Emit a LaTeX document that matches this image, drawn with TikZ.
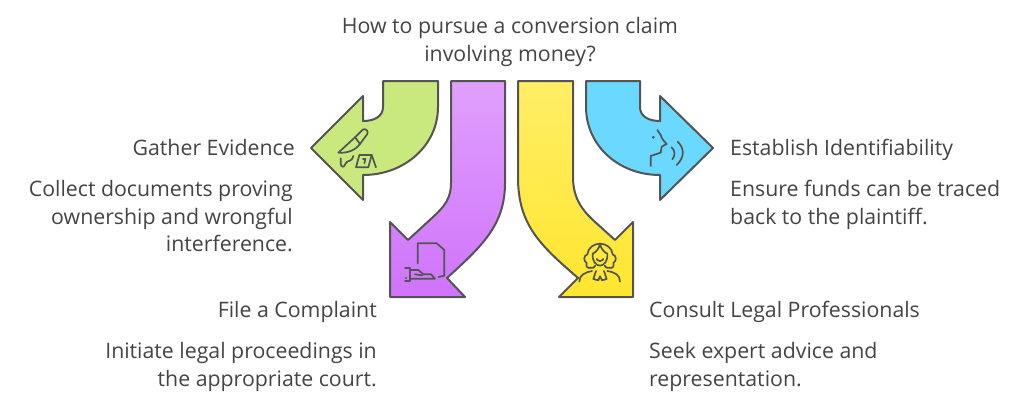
\documentclass[tikz,border=0pt]{standalone}
\usepackage{fontspec}
\setmainfont{Open Sans}
\usepackage{xcolor}
\usetikzlibrary{positioning,calc}
\definecolor{inkgray}{HTML}{545454}
\definecolor{textgray}{HTML}{444444}
\definecolor{leafgreen}{HTML}{C9E87E}
\definecolor{skyblue}{HTML}{6BD8FF}
\definecolor{purpletop}{HTML}{E0A0FC}
\definecolor{purplebottom}{HTML}{CF73FB}
\definecolor{yellowtop}{HTML}{FFEE66}
\definecolor{yellowbottom}{HTML}{FFE62E}

\begin{document}
\begin{tikzpicture}[
    x=1pt, y=-1pt,
    arrowshape/.style={draw=inkgray, line width=2pt, line join=round},
    iconline/.style={draw=inkgray, line width=1.7pt, line cap=round, line join=round},
    textlabel/.style={font=\fontsize{21.3}{27.8}\selectfont, text=textgray, inner sep=0pt},
    leftlabel/.style={textlabel, anchor=north west, align=left},
    rightlabel/.style={textlabel, anchor=north east, align=right}
]
\useasboundingbox (0,0) rectangle (1024,404);

% green arrow
\draw[arrowshape, fill=leafgreen] (383,81) -- (438,81) -- (438,107)
    .. controls (438,145) and (405,175) .. (363,175)
    -- (363,200) -- (311,148) -- (363,96) -- (363,121)
    .. controls (375,121) and (383,116) .. (383,107) -- cycle;
% purple arrow
\draw[arrowshape, top color=purpletop, bottom color=purplebottom] (451,81) -- (505,81) -- (505,183)
    .. controls (505,225) and (482,246) .. (447,278)
    -- (465,297) -- (390,297) -- (390,222) -- (408,240)
    -- (433,217) .. controls (445,206) and (451,198) .. (451,183) -- cycle;
% yellow arrow
\draw[arrowshape, top color=yellowtop, bottom color=yellowbottom] (518,81) -- (573,81) -- (573,177)
    .. controls (573,198) and (582,210) .. (594,221)
    -- (615,240) -- (633,222) -- (633,297) -- (559,297) -- (578,278)
    .. controls (540,245) and (518,225) .. (518,177) -- cycle;
% blue arrow
\draw[arrowshape, fill=skyblue] (586,81) -- (640,81) -- (640,107)
    .. controls (640,116) and (648,121) .. (660,121)
    -- (660,96) -- (713,148) -- (660,200) -- (660,175)
    .. controls (618,175) and (586,145) .. (586,107) -- cycle;

% knife and marker
\begin{scope}[shift={(330,120)}, scale=1/3]
    \draw[iconline] (25,98) -- (75,52) -- (98,29) .. controls (106,24) and (116,32) .. (112,42)
        -- (90,72) .. controls (75,92) and (50,100) .. (25,98);
    \draw[iconline] (75,52) -- (90,72);
    \draw[iconline] (32,115) -- (32,132) .. controls (34,142) and (42,144) .. (46,132)
        .. controls (48,124) and (54,124) .. (60,122) .. controls (66,120) and (68,114) .. (70,108);
    \draw[iconline] (78,142) -- (88,105) -- (125,105) -- (115,142) -- cycle;
    \draw[iconline] (125,105) -- (138,142);
    \draw[iconline] (99,117) -- (106,117) -- (103,130);
\end{scope}

% document and hand
\begin{scope}[shift={(395,235)}, scale=1/3]
    \draw[iconline] (68,85) -- (68,25) -- (125,25) -- (148,45) -- (148,122) -- (131,126);
    \draw[iconline] (30,100) -- (45,100) -- (45,137) -- (30,137);
    \draw[iconline] (45,105) -- (70,105) -- (85,118) -- (108,118) -- (120,131) -- (45,131);
    \draw[iconline] (60,118) -- (82,121);
    \fill[inkgray] (33,129) circle (3.5);
\end{scope}

% lawyer
\begin{scope}[shift={(570,235)}, scale=1/3]
    \draw[iconline] (62,98) .. controls (54,102) and (46,94) .. (50,84)
        .. controls (40,78) and (40,62) .. (52,58)
        .. controls (54,38) and (72,26) .. (90,26)
        .. controls (108,26) and (126,38) .. (128,58)
        .. controls (140,62) and (140,78) .. (130,84)
        .. controls (134,94) and (126,102) .. (118,98);
    \draw[iconline] (62,98) .. controls (68,100) and (74,98) .. (76,92);
    \draw[iconline] (118,98) .. controls (112,100) and (106,98) .. (104,92);
    \draw[iconline] (90,26) .. controls (88,40) and (78,52) .. (68,56)
        .. controls (66,78) and (78,92) .. (90,92)
        .. controls (102,92) and (114,78) .. (112,56)
        .. controls (102,52) and (92,40) .. (90,26);
    \draw[iconline] (80,72) .. controls (85,80) and (95,80) .. (100,72);
    \draw[iconline] (28,140) .. controls (28,120) and (45,112) .. (66,108);
    \draw[iconline] (150,140) .. controls (150,120) and (135,112) .. (112,108);
    \draw[iconline] (78,108) -- (70,132) -- (85,136) -- (90,124) -- (96,136) -- (110,132) -- (102,108);
\end{scope}

% speaking face
\begin{scope}[shift={(640,120)}, scale=1/3]
    \fill[inkgray] (40,52) circle (4.5);
    \draw[iconline] (52,30) -- (62,45) .. controls (66,58) and (72,64) .. (80,72)
        -- (65,80) -- (62,98) -- (32,108) -- (32,138);
    \draw[iconline] (95,82) .. controls (106,92) and (106,106) .. (97,118);
    \draw[iconline] (113,65) .. controls (134,85) and (134,112) .. (110,135);
\end{scope}

\node[textlabel, align=center, anchor=north] (title) at (510,17) {How to pursue a conversion claim\\involving money?};

\node[rightlabel] (evidencehead) at (295,139) {Gather Evidence};
\node[rightlabel] (evidencetext) at (293,180) {Collect documents proving\\ownership and wrongful\\interference.};

\node[rightlabel] (complainthead) at (377,301) {File a Complaint};
\node[rightlabel] (complainttext) at (377,342) {Initiate legal proceedings in\\the appropriate court.};

\node[leftlabel] (consulthead) at (649,301) {Consult Legal Professionals};
\node[leftlabel] (consulttext) at (649,342) {Seek expert advice and\\representation.};

\node[leftlabel] (establishhead) at (730,139) {Establish Identifiability};
\node[leftlabel] (establishtext) at (730,180) {Ensure funds can be traced\\back to the plaintiff.};
\end{tikzpicture}
\end{document}
